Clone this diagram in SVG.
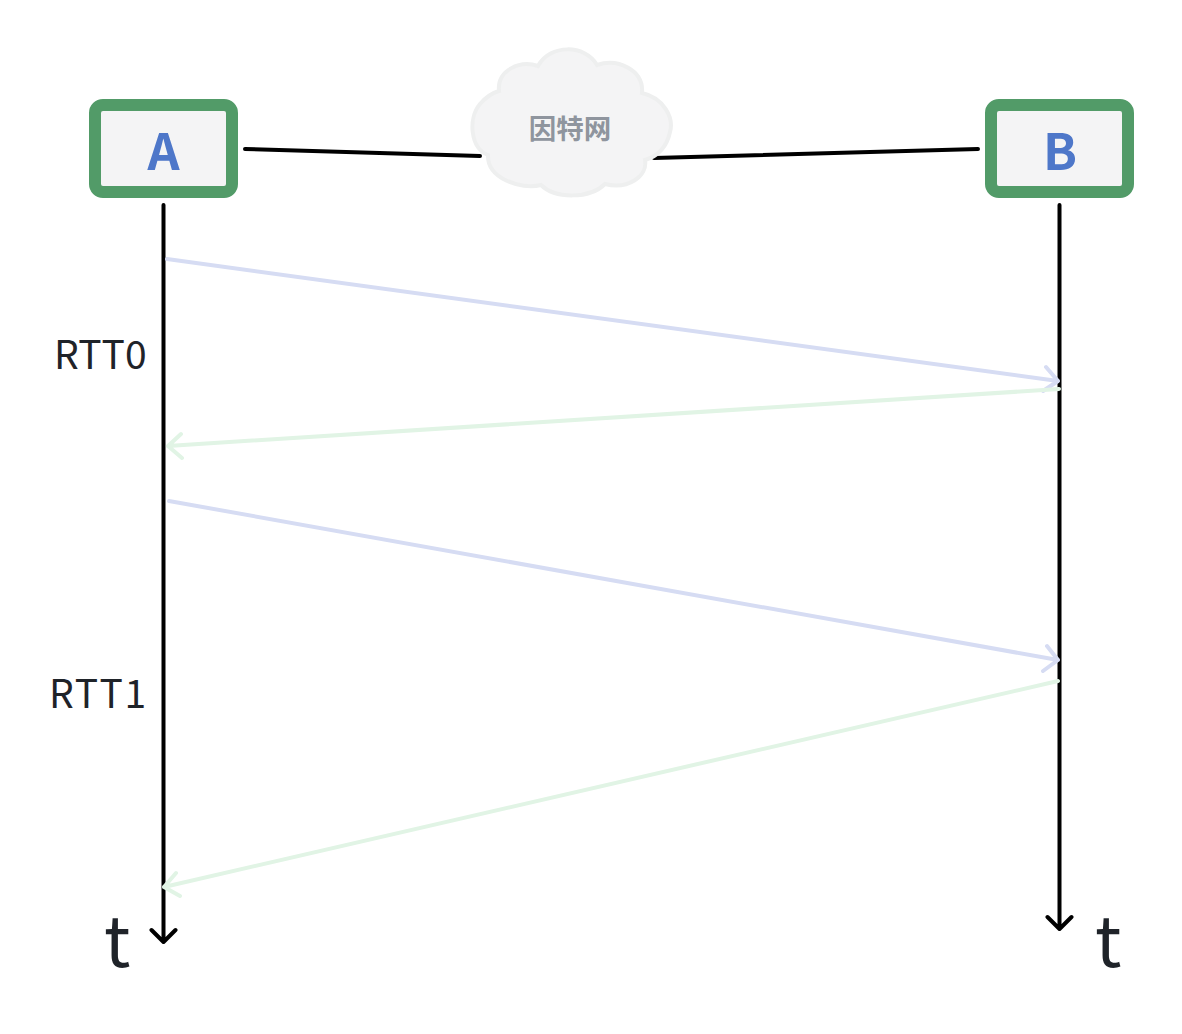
<svg xmlns="http://www.w3.org/2000/svg" width="1182" height="1034" viewBox="0 0 1182 1034">
<style>
.box{fill:#f4f4f5;stroke:#529b68;stroke-width:12}
.id{font:700 50px "Noto Sans CJK SC","Noto Sans",sans-serif;fill:#4e77c9;text-anchor:middle}
.lab{font:400 39px "Noto Sans CJK SC","Noto Sans",sans-serif;fill:#1f2329}
.t{font:400 70px "Noto Sans CJK SC","Noto Sans",sans-serif;fill:#1f2329}
.k{fill:none;stroke:#000;stroke-width:4;stroke-linecap:round;stroke-linejoin:round}
.b{fill:none;stroke:#d6dcf3;stroke-width:4;stroke-linecap:round;stroke-linejoin:round}
.g{fill:none;stroke:#e1f4e5;stroke-width:4;stroke-linecap:round;stroke-linejoin:round}
</style>
<rect width="1182" height="1034" fill="#fff"/>
<g id="connectors">
<path class="k" d="M245 149L480 156M654 158L978 149"/>
<path class="k" d="M163.500 205V941M151.500 930L163.500 942L175.500 930"/>
<path class="k" d="M1059.500 205V928M1047.500 917L1059.500 929L1071.500 917"/>
<path class="b" d="M167 259L1058 381M1046 367L1058 381L1043 391"/>
<path class="g" d="M1059 389L168 446M181 434L168 446L182 458"/>
<path class="b" d="M169 501L1058 660M1047 646L1058 660L1043 671"/>
<path class="g" d="M1058 681L164 887M176 873L164 887L180 896"/>
</g>
<g id="node-a"><rect class="box" x="95" y="105" width="137" height="87" rx="8"/><text class="id" x="163.500" y="170">A</text></g>
<g id="node-b"><rect class="box" x="991" y="105" width="137" height="87" rx="8"/><text class="id" x="1060" y="170">B</text></g>
<g id="cloud"><path d="M499 91C497 70 520 60 538 66C550 44 585 44 597 65C618 58 644 70 642 93C664 98 674 118 670 132C667 146 658 156 645 160C648 176 628 190 605 184C590 199 555 199 541 185C520 190 487 178 488 155C470 148 468 118 480 104C486 97 492 93 499 91Z" fill="#f4f4f5" stroke="#eeefef" stroke-width="4"/><text x="570" y="139" font-family="Noto Sans CJK SC,sans-serif" font-size="27.500" font-weight="700" fill="#8f959e" text-anchor="middle">因特网</text></g>
<g id="labels">
<text class="lab" x="54" y="369">RTT0</text>
<text class="lab" x="49" y="708" letter-spacing="1.500">RTT1</text>
<text class="t" x="104" y="967">t</text>
<text class="t" x="1095" y="967">t</text>
</g>
</svg>
